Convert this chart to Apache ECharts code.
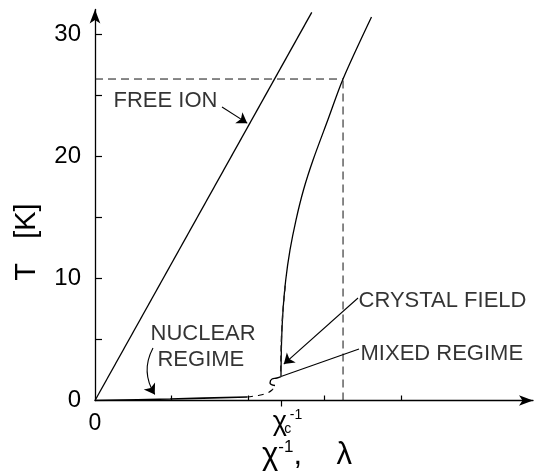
<!DOCTYPE html>
<html>
<head>
<meta charset="utf-8">
<script src="https://cdn.jsdelivr.net/npm/echarts@6/dist/echarts.min.js"></script>
<style>
  html, body { margin: 0; padding: 0; background: #fff; }
  #chart { width: 542px; height: 476px; }
</style>
</head>
<body>
<div id="chart"></div>
<script>
// Temperature T [K] against inverse susceptibility χ⁻¹ (coupling λ)
const xTicks = [1, 2, 3, 4];
const yTicks = [5, 10, 15, 20, 25, 30];
const yLabels = [0, 10, 20, 30];
const chiC = 2.431;     // critical value χc⁻¹
const xRef = 3.242;     // dashed guide position on the χ⁻¹ axis
const tRef = 26.31;     // dashed guide temperature

// Curie law of the free ion
const freeIon = [[0, 0], [2.833, 31.77]];
// crystal-field branch
const crystalField = [
  [3.614, 31.38], [3.242, 26.31], [3.043, 22.95], [2.850, 19.68],
  [2.725, 17.23], [2.627, 14.77], [2.549, 12.32], [2.493, 9.86],
  [2.458, 7.41], [2.439, 4.95], [2.431, 2.00]
];
const crystalFieldLow = [[2.487, 9.4], [2.452, 7.0], [2.434, 4.6], [2.426, 2.1]];
// nuclear branch
const nuclear = [[0, 0], [0.980, 0.12], [1.987, 0.29]];
const nuclearDashed = [[1.987, 0.29], [2.131, 0.41], [2.235, 0.57], [2.314, 0.86], [2.353, 1.23]];
const mixedCurl = [[2.353, 1.23], [2.288, 1.43], [2.314, 1.76], [2.379, 1.84], [2.431, 1.96]];
// dashed guides
const guideH = [[0, tRef], [xRef, tRef]];
const guideV = [[xRef, 0], [xRef, tRef]];

// annotation texts and the points they start from
const noteText = ['FREE ION', 'NUCLEAR', 'REGIME', 'CRYSTAL FIELD', 'MIXED REGIME'];
const noteAt = [[0.235, 24.51], [0.719, 5.44], [0.810, 3.31], [3.438, 8.18], [3.464, 3.81]];
// pointer lines: start, end, arrow head, curvature
const pointerFrom = [[1.660, 24.02], [0.758, 4.30], [3.438, 8.39], [3.451, 4.21]];
const pointerTo = [[1.990, 22.70], [0.781, 0.50], [2.468, 2.98], [2.431, 1.96]];
const pointerHead = [true, true, true, false];
const pointerCurve = [0, -0.29, 0, 0];

const FONT = 'Liberation Sans';
const INK = '#000';
const xMax = 5.725, yMax = 32;

function lineSeries(data, opts) {
  return Object.assign({
    type: 'line', data: data, showSymbol: false, symbol: 'none', smooth: false,
    lineStyle: { color: INK, width: 1.3 }, silent: true, animation: false, z: 3
  }, opts || {});
}

const series = [
  lineSeries(freeIon),
  lineSeries(crystalField, { smooth: 0.3 }),
  lineSeries(crystalFieldLow, { smooth: 0.3, lineStyle: { color: '#222', width: 1.4, type: [6, 4] } }),
  lineSeries(nuclear, { smooth: 0.3, lineStyle: { color: INK, width: 1.6 } }),
  lineSeries(nuclearDashed, { smooth: 0.4, lineStyle: { color: INK, width: 1.1, type: [6, 5] } }),
  lineSeries(mixedCurl, { smooth: 0.5, lineStyle: { color: INK, width: 1.4 } }),
  lineSeries(guideH, { lineStyle: { color: '#111', width: 1, type: [8, 5] } }),
  lineSeries(guideV, { lineStyle: { color: '#111', width: 1, type: [8, 5] } })
];

pointerFrom.forEach(function (p, i) {
  series.push({
    type: 'lines', coordinateSystem: 'cartesian2d', silent: true, animation: false, z: 4,
    symbol: pointerHead[i] ? ['none', 'arrow'] : ['none', 'none'],
    symbolSize: [6, 10],
    lineStyle: { color: INK, width: 1.1, curveness: pointerCurve[i], opacity: 1 },
    itemStyle: { color: INK },
    data: [{ coords: [p, pointerTo[i]] }]
  });
});

series.push({
  type: 'scatter', silent: true, animation: false, z: 5,
  symbolSize: 1, itemStyle: { color: 'transparent' },
  data: noteAt.map(function (p, i) { return { name: noteText[i], value: p }; }),
  label: {
    show: true, position: 'right', distance: 0, formatter: '{b}',
    fontFamily: FONT, fontSize: 22, color: INK
  }
});

const chart = echarts.init(document.getElementById('chart'), null, { renderer: 'canvas' });
chart.setOption({
  backgroundColor: '#fff',
  animation: false,
  grid: { left: 95, right: 542 - 533, top: 9.5, bottom: 75.5, containLabel: false },
  xAxis: [{
    type: 'value', min: 0, max: xMax, position: 'bottom',
    axisLine: { show: true, symbol: ['none', 'arrow'], symbolSize: [8, 14],
      lineStyle: { color: INK, width: 1.3 } },
    axisTick: { show: true, inside: true, length: 5, customValues: xTicks,
      lineStyle: { color: INK, width: 1.2 } },
    axisLabel: {
      customValues: [0, chiC], margin: 8, color: INK, fontFamily: FONT, fontSize: 22,
      formatter: function (v) {
        return v === 0 ? '{z|0}' : '{pad| }{chi|χ}{sub|c}{sup|-1}';
      },
      rich: {
        z: { fontSize: 23, fontFamily: FONT, color: INK, padding: [4, 0, 0, 0] },
        pad: { width: 13, fontSize: 20 },
        chi: { fontSize: 27, fontFamily: FONT, color: INK, verticalAlign: 'middle', lineHeight: 28 },
        sub: { fontSize: 14, fontFamily: FONT, color: INK, width: 0, verticalAlign: 'bottom', padding: [12, 0, 0, 1] },
        sup: { fontSize: 14, fontFamily: FONT, color: INK, verticalAlign: 'top', padding: [0, 0, 0, 2] }
      }
    },
    splitLine: { show: false }
  }, {
    type: 'value', min: 0, max: xMax, position: 'bottom',
    axisLine: { show: false },
    axisTick: { show: true, inside: false, length: 6, customValues: [chiC],
      lineStyle: { color: INK, width: 1.2 } },
    axisLabel: { show: false },
    splitLine: { show: false }
  }],
  yAxis: {
    type: 'value', min: 0, max: yMax,
    axisLine: { show: true, symbol: ['none', 'arrow'], symbolSize: [8, 14],
      lineStyle: { color: INK, width: 1.3 } },
    axisTick: { show: true, inside: true, length: 7, customValues: yTicks,
      lineStyle: { color: INK, width: 1.2 } },
    axisLabel: { customValues: yLabels, margin: 14, color: INK, fontFamily: FONT, fontSize: 24 },
    splitLine: { show: false }
  },
  graphic: [{
    type: 'text', x: 27, y: 242, rotation: Math.PI / 2, silent: true,
    style: { text: 'T   [K]', fill: INK, font: '29px "Liberation Sans"', align: 'center', verticalAlign: 'middle' }
  }, {
    type: 'text', x: 262, y: 455, silent: true,
    style: {
      text: '{t|χ}{s|-1}{t|,    λ}', align: 'left', verticalAlign: 'middle',
      rich: {
        t: { fontSize: 31, fontFamily: FONT, fill: INK, color: INK, lineHeight: 32 },
        s: { fontSize: 17, fontFamily: FONT, fill: INK, color: INK, verticalAlign: 'top' }
      }
    }
  }],
  series: series
});
</script>
</body>
</html>
